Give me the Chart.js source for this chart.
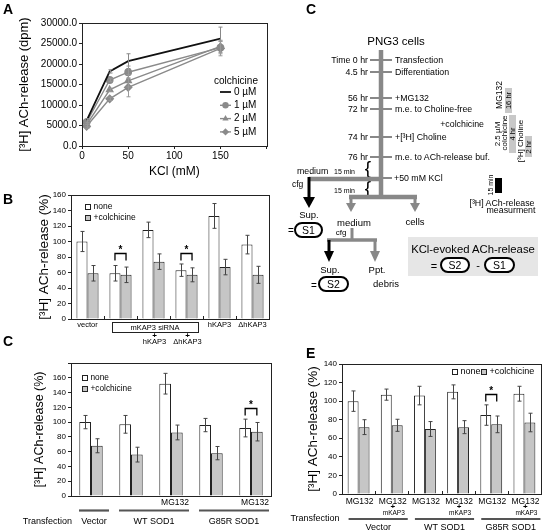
<!DOCTYPE html>
<html>
<head>
<meta charset="utf-8">
<script src="https://cdn.jsdelivr.net/npm/chart.js@4.4.0/dist/chart.umd.min.js"></script>
<style>
  html, body { margin: 0; padding: 0; background: #fff; }
  body { width: 544px; height: 532px; position: relative; overflow: hidden; font-family: "Liberation Sans", Arial, sans-serif; }
  .box { position: absolute; }
  svg { position: absolute; left: 0; top: 0; pointer-events: none; }
</style>
</head>
<body>
<div class="box" style="left:0;top:0;width:272px;height:185px"><canvas id="chartA" width="272" height="185"></canvas></div>
<div class="box" style="left:0;top:185px;width:272px;height:160px"><canvas id="chartB" width="272" height="160"></canvas></div>
<div class="box" style="left:0;top:345px;width:272px;height:187px"><canvas id="chartC" width="272" height="187"></canvas></div>
<div class="box" style="left:272px;top:345px;width:272px;height:187px"><canvas id="chartE" width="272" height="187"></canvas></div>

<svg width="544" height="532" font-family="Liberation Sans, Arial, sans-serif" fill="#000">
  <!-- panel letters -->
  <g font-size="14" font-weight="bold">
    <text x="3" y="14">A</text>
    <text x="3" y="204">B</text>
    <text x="306" y="14">C</text>
    <text x="3" y="346">C</text>
    <text x="306" y="358">E</text>
  </g>

  <!-- timeline -->
  <text x="396" y="45" font-size="11.5" text-anchor="middle">PNG3 cells</text>
  <line x1="381" y1="50" x2="381" y2="199" stroke="#888" stroke-width="4.5"/>
  <g stroke="#888" stroke-width="2">
    <line x1="370" y1="60" x2="392" y2="60"/>
    <line x1="370" y1="72" x2="392" y2="72"/>
    <line x1="370" y1="98" x2="392" y2="98"/>
    <line x1="370" y1="109" x2="392" y2="109"/>
    <line x1="370" y1="137" x2="392" y2="137"/>
    <line x1="370" y1="157" x2="392" y2="157"/>
    <line x1="381" y1="178" x2="392" y2="178"/>
  </g>
  <g font-size="8.8" text-anchor="end">
    <text x="368" y="63">Time 0 hr</text>
    <text x="368" y="75">4.5 hr</text>
    <text x="368" y="101">56 hr</text>
    <text x="368" y="112">72 hr</text>
    <text x="368" y="140">74 hr</text>
    <text x="368" y="160">76 hr</text>
    <text x="484" y="127">+colchicine</text>
  </g>
  <g font-size="8.8">
    <text x="395" y="63">Transfection</text>
    <text x="395" y="75">Differentiation</text>
    <text x="395" y="101">+MG132</text>
    <text x="395" y="112">m.e. to Choline-free</text>
    <text x="395" y="140">+[³H] Choline</text>
    <text x="395" y="160">m.e. to ACh-release buf.</text>
    <text x="394" y="181">+50 mM KCl</text>
  </g>
  <g font-size="19" text-anchor="middle">
    <text x="368" y="174">{</text>
    <text x="368" y="194">{</text>
  </g>
  <text x="297" y="174" font-size="8.8">medium</text>
  <g font-size="7">
    <text x="334" y="174">15 min</text>
    <text x="334" y="193">15 min</text>
  </g>
  <text x="292" y="187" font-size="8.5">cfg</text>

  <!-- first medium: S1 -->
  <line x1="381" y1="179" x2="309" y2="179" stroke="#888" stroke-width="4.5"/>
  <line x1="309" y1="177" x2="309" y2="199" stroke="#000" stroke-width="3"/>
  <polygon points="303,197 315,197 309,208" fill="#000"/>
  <text x="309" y="218" font-size="9.5" text-anchor="middle">Sup.</text>
  <text x="291" y="234" font-size="10" text-anchor="middle">=</text>
  <rect x="295" y="223" width="27" height="14" rx="7" fill="#fff" stroke="#000" stroke-width="2"/>
  <text x="308.5" y="234" font-size="10.5" text-anchor="middle">S1</text>

  <!-- split into medium / cells -->
  <line x1="349" y1="197" x2="417" y2="197" stroke="#888" stroke-width="4.5"/>
  <line x1="351" y1="197" x2="351" y2="204" stroke="#888" stroke-width="3"/>
  <line x1="415" y1="197" x2="415" y2="204" stroke="#888" stroke-width="3"/>
  <polygon points="346,203 356,203 351,212" fill="#888"/>
  <polygon points="410,203 420,203 415,212" fill="#888"/>
  <text x="354" y="226" font-size="9.5" text-anchor="middle">medium</text>
  <text x="341" y="235" font-size="8" text-anchor="middle">cfg</text>
  <text x="415" y="225" font-size="9.5" text-anchor="middle">cells</text>

  <line x1="352" y1="228" x2="352" y2="240" stroke="#888" stroke-width="3"/>
  <line x1="327" y1="240" x2="377" y2="240" stroke="#888" stroke-width="3.5"/>
  <line x1="329" y1="240" x2="329" y2="253" stroke="#000" stroke-width="3"/>
  <polygon points="324,251 334,251 329,262" fill="#000"/>
  <line x1="375" y1="240" x2="375" y2="253" stroke="#888" stroke-width="3"/>
  <polygon points="370,251 380,251 375,262" fill="#888"/>
  <text x="330" y="273" font-size="9.5" text-anchor="middle">Sup.</text>
  <text x="377" y="273" font-size="9.5" text-anchor="middle">Ppt.</text>
  <text x="386" y="287" font-size="9.5" text-anchor="middle">debris</text>
  <text x="314" y="289" font-size="10" text-anchor="middle">=</text>
  <rect x="319" y="277" width="29" height="14" rx="7" fill="#fff" stroke="#000" stroke-width="2"/>
  <text x="333.5" y="288" font-size="10.5" text-anchor="middle">S2</text>

  <!-- formula box -->
  <rect x="408" y="237" width="130" height="39" fill="#e6e6e6"/>
  <text x="473" y="253" font-size="11.3" text-anchor="middle">KCl-evoked ACh-release</text>
  <text x="434" y="270" font-size="11" text-anchor="middle">=</text>
  <rect x="441" y="258" width="28" height="14" rx="7" fill="#fff" stroke="#000" stroke-width="2"/>
  <text x="455" y="269" font-size="10.5" text-anchor="middle">S2</text>
  <text x="478" y="269" font-size="11" text-anchor="middle">-</text>
  <rect x="485" y="258" width="29" height="14" rx="7" fill="#fff" stroke="#000" stroke-width="2"/>
  <text x="499.5" y="269" font-size="10.5" text-anchor="middle">S1</text>

  <!-- treatment durations -->
  <rect x="505" y="88" width="7" height="25" fill="#c8c8c8"/>
  <rect x="509" y="115" width="7" height="38" fill="#c8c8c8"/>
  <rect x="525" y="136" width="7" height="21" fill="#c8c8c8"/>
  <rect x="495" y="178" width="7" height="15" fill="#000"/>
  <g font-size="8" text-anchor="middle" dominant-baseline="central">
    <text transform="translate(498.5,95) rotate(-90)" font-size="8.5">MG132</text>
    <text transform="translate(497,134) rotate(-90)">2.5 µM</text>
    <text transform="translate(504,133) rotate(-90)">colchicine</text>
    <text transform="translate(520.5,141) rotate(-90)">[³H] Choline</text>
  </g>
  <g font-size="7.5" text-anchor="middle" dominant-baseline="central">
    <text transform="translate(508.5,100.5) rotate(-90)">16 hr</text>
    <text transform="translate(512.5,134) rotate(-90)">4 hr</text>
    <text transform="translate(528.5,147) rotate(-90)">2 hr</text>
    <text transform="translate(490,185) rotate(-90)" font-size="7">15 min</text>
  </g>
  <text x="502" y="206" font-size="8.8" text-anchor="middle">[³H] ACh-release</text>
  <text x="511" y="213" font-size="8.8" text-anchor="middle">measurment</text>
</svg>

<script>
const FONT = '"Liberation Sans", Arial, sans-serif';
Chart.defaults.font.family = FONT;
Chart.defaults.color = '#000';
Chart.defaults.animation = false;

// ===============================
// Panel A: release vs KCl
// ===============================
const kclMM = [5, 30, 50, 150];
const doseLabels = ['0 µM', '1 µM', '2 µM', '5 µM'];
const rel0 = [6200, 18200, 20700, 26200];
const rel1 = [5800, 16100, 18000, 24000];
const rel2 = [5200, 13700, 15900, 24300];
const rel5 = [4800, 11500, 14300, 23800];
const err0 = [500, 400, 1800, 2800];
const err1 = [500, 400, 1500, 1500];
const err2 = [500, 400, 1500, 1500];
const err5 = [500, 400, 2300, 1800];

// ===============================
// Panel B: KAP3 knockdown
// ===============================
const bCats = ['vector', 'mKAP3 siRNA', 'mKAP3 siRNA + hKAP3', 'mKAP3 siRNA + ΔhKAP3', 'hKAP3', 'ΔhKAP3'];
const bNone = [100, 59, 115, 63, 133, 96];
const bColch = [59, 57, 74, 57, 67, 57];
const bNoneErr = [13, 10, 10, 8, 16, 12];
const bColchErr = [10, 10, 10, 9, 10, 11];

// ===============================
// Panel C (bottom): SOD1 +/- MG132
// ===============================
const cCats = ['Vector', 'WT SOD1', 'WT SOD1 + MG132', 'G85R SOD1', 'G85R SOD1 + MG132'];
const cTreat = ['', '', 'MG132', '', 'MG132'];
const cNone = [100, 97, 152, 96, 92];
const cColch = [68, 56, 86, 58, 87];
const cNoneErr = [9, 12, 14, 9, 12];
const cColchErr = [9.5, 10, 10, 9, 12.5];

// ===============================
// Panel E: MG132 +/- mKAP3
// ===============================
const eCats = ['Vector MG132', 'Vector MG132 + mKAP3', 'WT SOD1 MG132', 'WT SOD1 MG132 + mKAP3', 'G85R SOD1 MG132', 'G85R SOD1 MG132 + mKAP3'];
const eKap3 = [false, true, false, true, false, true];
const eNone = [100, 107, 106, 110, 85, 108];
const eColch = [72, 74, 70, 72, 75, 77];
const eNoneErr = [11, 6, 10, 7.5, 11, 8];
const eColchErr = [8, 6.5, 8, 7, 9, 10];

const transC = [{ name: 'Vector', from: 0, to: 0 }, { name: 'WT SOD1', from: 1, to: 2 }, { name: 'G85R SOD1', from: 3, to: 4 }];
const transE = [{ name: 'Vector', from: 0, to: 1 }, { name: 'WT SOD1', from: 2, to: 3 }, { name: 'G85R SOD1', from: 4, to: 5 }];

// ---------- shared plugins ----------
const errorBars = {
  id: 'errorBars',
  afterDatasetsDraw(chart) {
    const ctx = chart.ctx, ys = chart.scales.y;
    chart.data.datasets.forEach((ds, di) => {
      if (!ds.errors) return;
      const meta = chart.getDatasetMeta(di);
      ctx.save();
      ctx.strokeStyle = ds.errColor || '#444';
      ctx.lineWidth = 1;
      meta.data.forEach((el, i) => {
        const e = ds.errors[i];
        if (!e) return;
        const v = typeof ds.data[i] === 'object' ? ds.data[i].y : ds.data[i];
        const x = Math.round(el.x) + 0.5;
        const t = ys.getPixelForValue(v + e), b = ys.getPixelForValue(v - e);
        ctx.beginPath();
        ctx.moveTo(x, t); ctx.lineTo(x, b);
        ctx.moveTo(x - 2, t); ctx.lineTo(x + 2, t);
        ctx.moveTo(x - 2, b); ctx.lineTo(x + 2, b);
        ctx.stroke();
      });
      ctx.restore();
    });
  }
};

const frame = {
  id: 'frame',
  afterDraw(chart) {
    const a = chart.chartArea, ctx = chart.ctx;
    ctx.save();
    ctx.strokeStyle = '#222';
    ctx.lineWidth = 1;
    ctx.strokeRect(Math.round(a.left) + 0.5, Math.round(a.top) + 0.5, Math.round(a.right - a.left), Math.round(a.bottom - a.top));
    ctx.restore();
  }
};

// small inward marks between groups on the x axis
const groupMarks = {
  id: 'groupMarks',
  afterDraw(chart) {
    const xs = chart.scales.x, ctx = chart.ctx, b = chart.chartArea.bottom;
    const n = chart.data.labels.length;
    ctx.save();
    ctx.strokeStyle = '#222';
    ctx.lineWidth = 1;
    for (let i = 0; i < n - 1; i++) {
      const x = Math.round((xs.getPixelForValue(i) + xs.getPixelForValue(i + 1)) / 2) + 0.5;
      ctx.beginPath(); ctx.moveTo(x, b); ctx.lineTo(x, b - 3); ctx.stroke();
    }
    ctx.restore();
  }
};

function brackets(items) {
  return {
    id: 'brackets',
    afterDatasetsDraw(chart) {
      const ctx = chart.ctx, ys = chart.scales.y;
      ctx.save();
      ctx.strokeStyle = '#000';
      ctx.lineWidth = 1.3;
      ctx.fillStyle = '#000';
      ctx.font = 'bold 10px ' + FONT;
      ctx.textAlign = 'center';
      items.forEach(b => {
        const x1 = chart.getDatasetMeta(0).data[b.index].x;
        const x2 = chart.getDatasetMeta(1).data[b.index].x;
        const y = Math.round(ys.getPixelForValue(b.level)) + 0.5;
        ctx.beginPath();
        ctx.moveTo(x1, y + 7); ctx.lineTo(x1, y); ctx.lineTo(x2, y); ctx.lineTo(x2, y + 7);
        ctx.stroke();
        ctx.fillText('*', (x1 + x2) / 2, y - 1);
      });
      ctx.restore();
    }
  };
}

// spots: [x, y] of each legend square, in canvas pixels
function barLegend(spots, size) {
  return {
    id: 'barLegend',
    afterDraw(chart) {
      const ctx = chart.ctx;
      ctx.save();
      ctx.font = size + 'px ' + FONT;
      ctx.textBaseline = 'middle';
      chart.data.datasets.forEach((ds, i) => {
        const [cx, cy] = spots[i];
        ctx.fillStyle = ds.backgroundColor;
        ctx.strokeStyle = '#222';
        ctx.lineWidth = 1;
        ctx.fillRect(cx, cy - 2.5, 5, 5);
        ctx.strokeRect(cx + 0.5, cy - 2.5, 5, 5);
        ctx.fillStyle = '#000';
        ctx.fillText(ds.label, cx + 8.5, cy);
      });
      ctx.restore();
    }
  };
}

function transfection(groups, lineY, textY, padL, padR) {
  return {
    id: 'transfection',
    afterDraw(chart) {
      const ctx = chart.ctx, xs = chart.scales.x;
      ctx.save();
      ctx.font = '9px ' + FONT;
      ctx.fillStyle = '#000';
      ctx.textBaseline = 'middle';
      ctx.textAlign = 'right';
      ctx.fillText('Transfection', xs.getPixelForValue(groups[0].from) - 19, textY.label);
      ctx.strokeStyle = '#555';
      ctx.lineWidth = 2.2;
      ctx.textAlign = 'center';
      groups.forEach(g => {
        const l = xs.getPixelForValue(g.from) - padL, r = xs.getPixelForValue(g.to) + padR;
        ctx.beginPath(); ctx.moveTo(l, lineY); ctx.lineTo(r, lineY); ctx.stroke();
        ctx.fillText(g.name, (l + r) / 2, textY.names);
      });
      ctx.restore();
    }
  };
}

function barDatasets(none, colch, errN, errC, pct) {
  return [
    { label: 'none', data: none, errors: errN, backgroundColor: '#ffffff', borderColor: '#222', borderWidth: 1, categoryPercentage: pct, barPercentage: 1 },
    { label: '+colchicine', data: colch, errors: errC, backgroundColor: '#c6c6c6', borderColor: '#222', borderWidth: 1, categoryPercentage: pct, barPercentage: 1 }
  ];
}

function barOptions(pad, yWidth, xHeight, yMax, yTop, titleSize, titlePad) {
  return {
    responsive: false,
    layout: { padding: pad },
    plugins: { legend: { display: false }, tooltip: { enabled: false } },
    scales: {
      x: {
        ticks: { display: false },
        grid: { display: false },
        border: { color: '#222' },
        afterFit: s => { s.height = xHeight; }
      },
      y: {
        min: 0, max: yMax,
        ticks: { stepSize: 20, font: { size: 8 }, padding: 2, callback: v => v > yTop ? '' : v },
        grid: { drawOnChartArea: false, tickLength: 3, color: '#222' },
        border: { color: '#222' },
        title: { display: true, text: '[³H] ACh-release (%)', font: { size: titleSize }, padding: { top: titlePad, bottom: 0 } },
        afterFit: s => { s.width = yWidth; }
      }
    }
  };
}

// ---------- Panel A ----------
const pts = (ys) => kclMM.map((x, i) => ({ x: x, y: ys[i] }));
const lineLegend = {
  id: 'lineLegend',
  afterDraw(chart) {
    const ctx = chart.ctx;
    ctx.save();
    ctx.fillStyle = '#000';
    ctx.font = '10px ' + FONT;
    ctx.textAlign = 'center';
    ctx.textBaseline = 'middle';
    ctx.fillText('colchicine', 236, 81);
    ctx.textAlign = 'left';
    chart.data.datasets.forEach((ds, i) => {
      const y = 92 + i * 13.3;
      ctx.strokeStyle = ds.borderColor;
      ctx.lineWidth = ds.borderWidth;
      ctx.beginPath(); ctx.moveTo(220, y); ctx.lineTo(231, y); ctx.stroke();
      if (ds.pointRadius > 0) {
        ctx.fillStyle = ds.backgroundColor;
        ctx.strokeStyle = ds.borderColor;
        Chart.helpers.drawPoint(ctx, { pointStyle: ds.pointStyle, radius: ds.pointRadius, rotation: 0, borderWidth: 0 }, 225.5, y);
      }
      ctx.fillStyle = '#000';
      ctx.fillText(ds.label, 234, y);
    });
    ctx.restore();
  }
};

new Chart(document.getElementById('chartA'), {
  type: 'line',
  data: {
    datasets: [
      { label: doseLabels[0], data: pts(rel0), errors: err0, errColor: '#888', borderColor: '#111', backgroundColor: '#111', borderWidth: 1.8, pointRadius: 0 },
      { label: doseLabels[1], data: pts(rel1), errors: err1, errColor: '#999', borderColor: '#8a8a8a', backgroundColor: '#8a8a8a', borderWidth: 1.4, pointStyle: 'circle', pointRadius: 3.2 },
      { label: doseLabels[2], data: pts(rel2), errors: err2, errColor: '#999', borderColor: '#8a8a8a', backgroundColor: '#8a8a8a', borderWidth: 1.4, pointStyle: 'triangle', pointRadius: 3.6 },
      { label: doseLabels[3], data: pts(rel5), errors: err5, errColor: '#999', borderColor: '#8a8a8a', backgroundColor: '#8a8a8a', borderWidth: 1.4, pointStyle: 'rectRot', pointRadius: 3.6 }
    ]
  },
  options: {
    responsive: false,
    layout: { padding: { left: 0, top: 23, right: 5, bottom: 0 } },
    plugins: { legend: { display: false }, tooltip: { enabled: false } },
    scales: {
      x: {
        type: 'linear', min: 0, max: 200,
        ticks: { stepSize: 50, font: { size: 10 }, padding: 1, maxRotation: 0, callback: v => v === 200 ? '' : v },
        grid: { drawOnChartArea: false, tickLength: 3, color: '#222' },
        border: { color: '#222' },
        title: { display: true, text: 'KCl (mM)', font: { size: 12 }, padding: { top: 0, bottom: 6 } },
        afterFit: s => { s.height = 39; }
      },
      y: {
        min: 0, max: 30000,
        ticks: { stepSize: 5000, font: { size: 10 }, padding: 2, callback: v => v.toFixed(1) },
        grid: { drawOnChartArea: false, tickLength: 3, color: '#222' },
        border: { color: '#222' },
        title: { display: true, text: '[³H] ACh-release (dpm)', font: { size: 13 }, padding: { top: 17, bottom: 0 } },
        afterFit: s => { s.width = 82; }
      }
    }
  },
  plugins: [errorBars, frame, lineLegend]
});

// ---------- Panel B ----------
const bUnder = {
  id: 'bUnder',
  afterDraw(chart) {
    const ctx = chart.ctx, xs = chart.scales.x;
    const px = i => xs.getPixelForValue(i);
    ctx.save();
    ctx.fillStyle = '#000';
    ctx.textAlign = 'center';
    ctx.textBaseline = 'middle';
    ctx.font = '7.5px ' + FONT;
    ctx.fillText(bCats[0], px(0), 140);
    ctx.fillText(bCats[4], px(4), 140);
    ctx.fillText(bCats[5], px(5), 140);
    // siRNA box over groups 1..3
    const l = px(1) - 8.5, r = px(3) + 11.5;
    ctx.strokeStyle = '#222';
    ctx.lineWidth = 1;
    ctx.strokeRect(Math.round(l) + 0.5, 137.5, Math.round(r - l), 10);
    ctx.fillText(bCats[1], (l + r) / 2, 142.5);
    [2, 3].forEach(i => {
      const rescue = bCats[i].split(' + ')[1];
      ctx.font = 'bold 8px ' + FONT;
      ctx.fillText('+', px(i) + 1, 151);
      ctx.font = '7.5px ' + FONT;
      ctx.fillText(rescue, px(i) + 1, 157);
    });
    ctx.restore();
  }
};

new Chart(document.getElementById('chartB'), {
  type: 'bar',
  data: { labels: bCats, datasets: barDatasets(bNone, bColch, bNoneErr, bColchErr, 0.67) },
  options: barOptions({ left: 0, top: 10, right: 3, bottom: 0 }, 71, 26, 160, 160, 13.5, 36),
  plugins: [errorBars, frame, groupMarks, brackets([{ index: 1, level: 85 }, { index: 3, level: 85 }]), barLegend([[85, 22], [85, 33]], 8.5), bUnder]
});

// ---------- Panel C (bottom) ----------
const cUnder = {
  id: 'cUnder',
  afterDraw(chart) {
    const ctx = chart.ctx, xs = chart.scales.x;
    ctx.save();
    ctx.fillStyle = '#000';
    ctx.textAlign = 'center';
    ctx.textBaseline = 'middle';
    ctx.font = '8.5px ' + FONT;
    cTreat.forEach((t, i) => { if (t) ctx.fillText(t, xs.getPixelForValue(i) + 4, 158); });
    ctx.restore();
  }
};

new Chart(document.getElementById('chartC'), {
  type: 'bar',
  data: { labels: cCats, datasets: barDatasets(cNone, cColch, cNoneErr, cColchErr, 0.585) },
  options: barOptions({ left: 0, top: 18, right: 1, bottom: 0 }, 71, 36, 180, 160, 12.5, 32.5),
  plugins: [errorBars, frame, brackets([{ index: 4, level: 119 }]), barLegend([[82, 33], [82, 44]], 8.3), cUnder,
    transfection(transC, 165.5, { label: 177, names: 177 }, 12, 18)]
});

// ---------- Panel E ----------
const eUnder = {
  id: 'eUnder',
  afterDraw(chart) {
    const ctx = chart.ctx, xs = chart.scales.x;
    ctx.save();
    ctx.fillStyle = '#000';
    ctx.textAlign = 'center';
    ctx.textBaseline = 'middle';
    eKap3.forEach((k, i) => {
      const x = xs.getPixelForValue(i) + 1;
      ctx.font = '8.5px ' + FONT;
      ctx.fillText('MG132', x, 157);
      if (k) {
        ctx.font = 'bold 8px ' + FONT;
        ctx.fillText('+', x, 162);
        ctx.font = '6.5px ' + FONT;
        ctx.fillText('mKAP3', x + 1, 168);
      }
    });
    ctx.restore();
  }
};

new Chart(document.getElementById('chartE'), {
  type: 'bar',
  data: { labels: eCats, datasets: barDatasets(eNone, eColch, eNoneErr, eColchErr, 0.66) },
  options: barOptions({ left: 0, top: 19, right: 3, bottom: 0 }, 70, 38, 140, 140, 13.5, 33),
  plugins: [errorBars, frame, groupMarks, brackets([{ index: 4, level: 108 }]), barLegend([[180, 27], [209, 27]], 9), eUnder,
    transfection(transE, 174, { label: 174, names: 183 }, 10, 16)]
});
</script>
</body>
</html>
